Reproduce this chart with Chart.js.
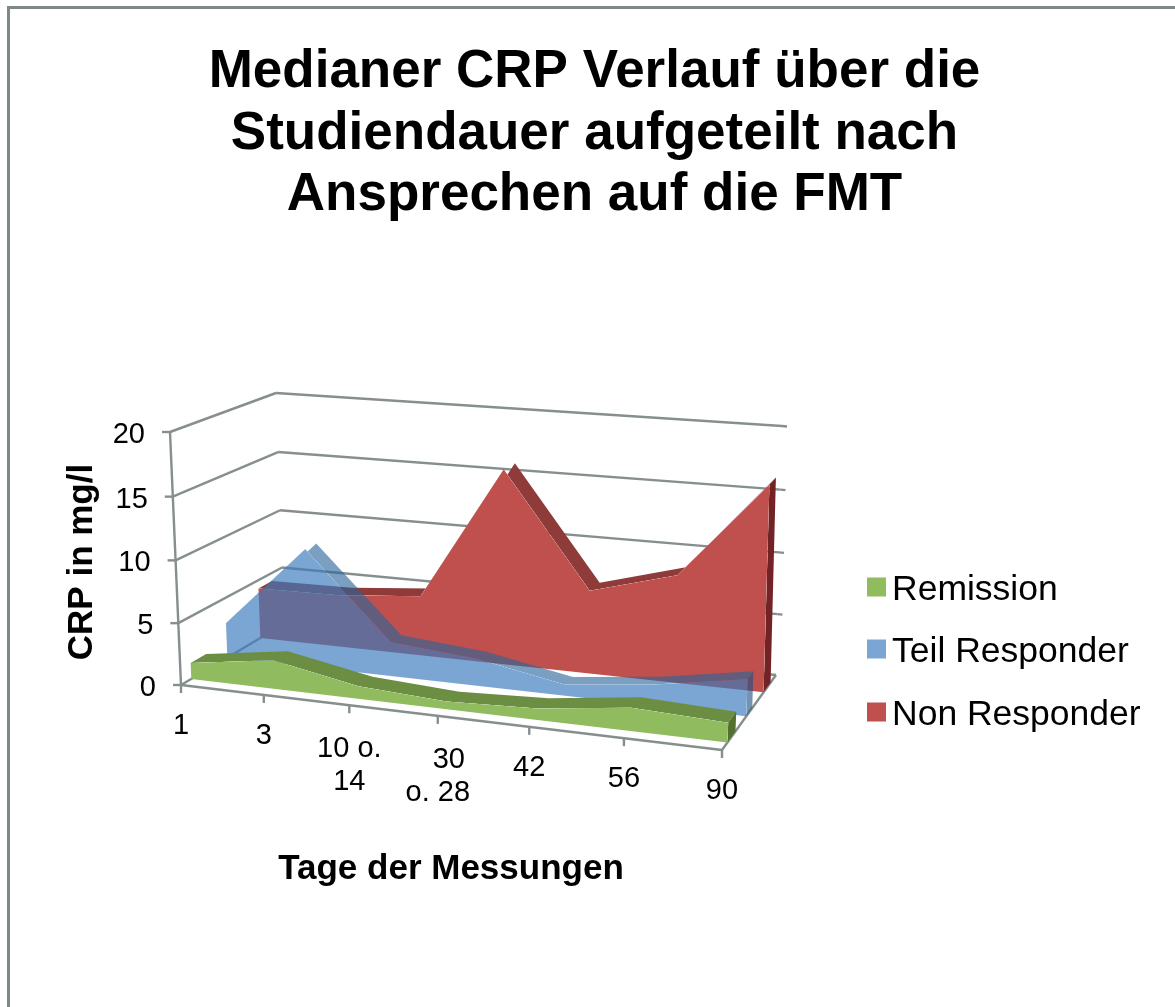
<!DOCTYPE html>
<html><head><meta charset="utf-8">
<style>html,body{margin:0;padding:0;background:#fff}canvas{display:block}</style>
<script src="https://cdn.jsdelivr.net/npm/chart.js@4"></script>
</head><body><canvas id="c" width="1175" height="1007"></canvas>
<script>
const titleLines = ["Medianer CRP Verlauf über die","Studiendauer aufgeteilt nach","Ansprechen auf die FMT"];
const categories = ["1","3",["10 o.","14"],["30","o. 28"],"42","56","90"];
const remission = [1.3,2.3,1.0,0.6,0.9,1.8,1.5];
const teilResponder = [2.9,9.7,2.8,2.2,0.9,1.7,2.9];
const nonResponder = [4.3,4.4,5.0,16.0,6.8,8.7,16.4];
const xTitle = "Tage der Messungen";
const yTitle = "CRP in mg/l";

const FONT = '"Liberation Sans", Arial, sans-serif';
const GRID = '#868E8E';
// projected box corners: [front|back][left|right][bottom|top]
const box = {
  fLB:[181,685], fLT:[170,432], fRB:[722,750], fRT:[733,478],
  bLB:[284,624], bLT:[276,393], bRB:[776,675], bRT:[782,426]
};
const lerp=(a,b,s)=>[a[0]+(b[0]-a[0])*s,a[1]+(b[1]-a[1])*s];
const warp=(s,w)=>s/(s+w*(1-s));
function P(u,v,t){
  const U=warp(u,1.107-.06*t),V=warp(v,1.03);
  const f=lerp(lerp(box.fLB,box.fRB,U),lerp(box.fLT,box.fRT,U),V);
  const b=lerp(lerp(box.bLB,box.bRB,U),lerp(box.bLT,box.bRT,U),V);
  return lerp(f,b,t);
}
function poly(ctx,pts){pts.forEach((p,i)=>i?ctx.lineTo(p[0],p[1]):ctx.moveTo(p[0],p[1]));ctx.closePath();}
function seg(ctx,a,b,w){ctx.beginPath();ctx.moveTo(a[0],a[1]);ctx.lineTo(b[0],b[1]);ctx.lineWidth=w||2.4;ctx.strokeStyle=GRID;ctx.stroke();}

const area3d={
  id:'area3d',
  beforeDraw(chart){
    const c=chart.ctx;c.save();
    c.fillStyle='#fff';c.fillRect(0,0,1175,1007);
    c.strokeStyle='#7F8888';c.lineWidth=3;
    c.beginPath();c.moveTo(8.5,1007);c.lineTo(8.5,7.5);c.lineTo(1175,7.5);c.stroke();
    c.restore();
  },
  beforeDatasetsDraw(chart){
    const c=chart.ctx,{x:sx,y:sy}=chart.scales;
    const a=chart.chartArea;c.save();
    const vOf=val=>(a.bottom-sy.getPixelForValue(val))/a.height;
    const uOf=i=>(sx.getPixelForValue(i)-a.left)/a.width;
    c.textBaseline='middle';
    sy.ticks.forEach(tk=>{
      const v=vOf(tk.value);
      const fl=P(0,v,0),bl=P(0,v,1),br=P(1,v,1);
      seg(c,fl,bl);seg(c,bl,br);
      seg(c,[fl[0]-8,fl[1]],fl);
      if(tk.value>0) seg(c,br,[br[0]+5,br[1]+0.5]);
      c.fillStyle='#000';c.font='29px '+FONT;c.textAlign='right';
      c.fillText(String(tk.value),fl[0]-25,fl[1]+3);
    });
    seg(c,P(0,0,0),P(0,1,0));
    seg(c,P(0,0,0),P(1,0,0));
    seg(c,P(1,0,0),P(1,0,1));
    const nudge={'30':11};
    categories.forEach((lab,i)=>{
      const p=P(uOf(i),0,0);
      seg(c,p,[p[0],p[1]+8]);
      const lines=Array.isArray(lab)?lab:[lab];
      const dy=lines.length>1?44:41;
      c.fillStyle='#000';c.font='29px '+FONT;c.textAlign='center';
      lines.forEach((ln,k)=>c.fillText(ln,p[0]+(nudge[ln]||0),p[1]+dy+k*33));
    });
    c.font='bold 35px '+FONT;c.textAlign='center';
    c.fillText(xTitle,451,869);
    c.save();c.translate(82,562);c.rotate(-Math.PI/2);c.fillText(yTitle,0,0);c.restore();
    c.restore();
  },
  beforeDatasetDraw(chart,args){
    const c=chart.ctx,ds=chart.data.datasets[args.index],meta=args.meta,a=chart.chartArea;
    const [t0,t1]=ds.depth;
    const pts=meta.data.map(pt=>({u:(pt.x-a.left)/a.width,v:(a.bottom-pt.y)/a.height}));
    const face=pts.map(p=>P(p.u,p.v,t0));
    const outline=[P(pts[0].u,0,t0),...face,P(pts[pts.length-1].u,0,t0)];
    c.save();
    // top band and end panel, only where not behind the front face
    c.save();
    c.beginPath();c.rect(0,0,1175,1007);poly(c,outline);c.clip('evenodd');
    c.beginPath();
    for(let i=0;i<pts.length-1;i++){
      poly(c,[P(pts[i].u,pts[i].v,t0),P(pts[i+1].u,pts[i+1].v,t0),P(pts[i+1].u,pts[i+1].v,t1),P(pts[i].u,pts[i].v,t1)]);
    }
    c.fillStyle=ds.bandColor;c.fill('nonzero');
    const last=pts[pts.length-1];
    c.beginPath();poly(c,[P(last.u,0,t0),P(last.u,last.v,t0),P(last.u,last.v,t1),P(last.u,0,t1)]);
    c.fillStyle=ds.sideColor;c.fill();
    c.restore();
    c.beginPath();poly(c,outline);c.fillStyle=ds.faceColor;c.fill();
    c.restore();
  },
  afterDraw(chart){
    const c=chart.ctx;c.save();
    const ys=[587,649,712],base=[600,662,725];
    chart.data.datasets.forEach((ds,i)=>{
      c.fillStyle=ds.legendColor;c.fillRect(867,ys[i]-9.5,19,19);
      c.fillStyle='#000';c.font='35.5px '+FONT;c.textAlign='left';c.textBaseline='alphabetic';
      c.fillText(ds.label,892,base[i]);
    });
    c.restore();
  }
};
const common={showLine:false,pointRadius:0,borderWidth:0,fill:false};
new Chart(document.getElementById('c'),{
  type:'line',
  data:{labels:categories,datasets:[
    {...common,label:'Remission',data:remission,depth:[.10,.25],faceColor:'#90BB5F',bandColor:'#6C8E42',sideColor:'#54702F',legendColor:'#90BB5F'},
    {...common,label:'Teil Responder',data:teilResponder,depth:[.45,.56],faceColor:'rgba(61,122,189,.68)',bandColor:'rgba(40,100,155,.62)',sideColor:'rgba(30,80,130,.62)',legendColor:'#7BA5D2'},
    {...common,label:'Non Responder',data:nonResponder,depth:[.77,.90],faceColor:'#BF504D',bandColor:'#8E3B39',sideColor:'#712326',legendColor:'#BF504D'}
  ]},
  options:{
    responsive:false,animation:false,
    layout:{padding:{left:14}},
    scales:{
      x:{display:false,offset:false},
      y:{display:false,min:0,max:20,ticks:{stepSize:5}}
    },
    plugins:{
      legend:{display:false},tooltip:{enabled:false},
      title:{display:true,text:titleLines,color:'#000',font:{family:FONT,size:53,weight:'bold',lineHeight:1.16},padding:{top:42,bottom:10}}
    }
  },
  plugins:[area3d]
});
</script></body></html>
